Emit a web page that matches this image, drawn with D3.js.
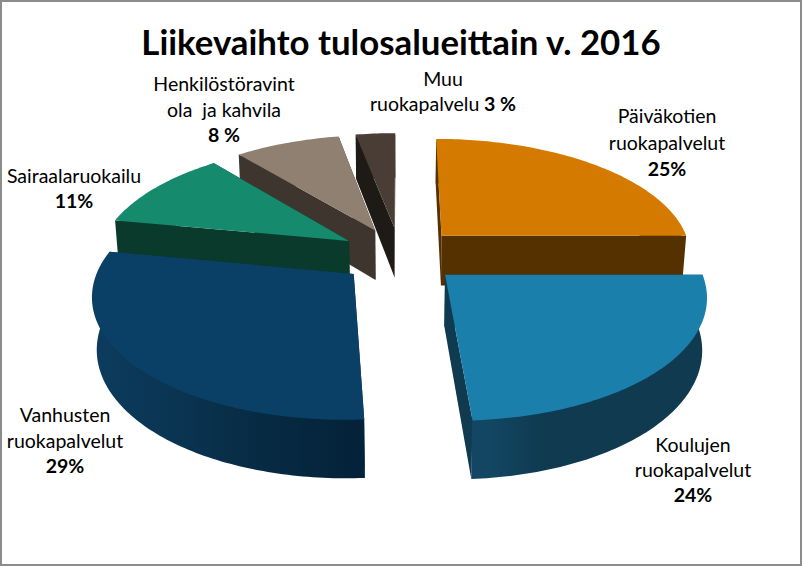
<!DOCTYPE html>
<html><head><meta charset="utf-8">
<script src="https://cdnjs.cloudflare.com/ajax/libs/d3/7.8.5/d3.min.js"></script>
<style>html,body{margin:0;padding:0;background:#fff}svg{display:block}text{font-family:Lato,"Open Sans",sans-serif;fill:#000;white-space:pre}</style>
</head><body><svg id="c" width="802" height="566"></svg>
<script>
// Data
const categories = ["Päiväkotien ruokapalvelut","Koulujen ruokapalvelut","Vanhusten ruokapalvelut","Sairaalaruokailu","Henkilöstöravintola ja kahvila","Muu ruokapalvelu"];
const values = [25,24,29,11,8,3];
const valueLabels = ["25%","24%","29%","11%","8 %","3 %"];
const labelLines = [["Päiväkotien","ruokapalvelut"],["Koulujen","ruokapalvelut"],["Vanhusten","ruokapalvelut"],["Sairaalaruokailu"],["Henkilöstöravint","ola  ja kahvila"],["Muu","ruokapalvelu"]];
const titleText = "Liikevaihto tulosalueittain v. 2016";

// Styles and layout
const topColors = ["#D57A00","#1B7FAB","#0A3F66","#158A6C","#8F8072","#4A3D36"];
const wallColors = ["#563100","#0F3A50","#0A3A5A","#0A3A2C","#3E352E","#1E1A16"];
const curveStops = [
  [[0,"#563100"],[1,"#563100"]],
  [[0.08,"#124662"],[0.3,"#0F3A50"],[1,"#0F3A50"]],
  [[0,"#0C3C5E"],[0.35,"#0A3350"],[0.6,"#072B44"],[0.8,"#05273E"],[1,"#04223A"]],
  [[0,"#0A3A2C"],[1,"#0A3A2C"]],
  [[0,"#3E352E"],[1,"#3E352E"]],
  [[0,"#1E1A16"],[1,"#1E1A16"]]
];
const labelPos = [{x:667,y:123,dy:26.5},{x:693,y:452,dy:25},{x:65,y:422,dy:25.5},{x:74,y:183,dy:25},{x:224,y:91,dy:25.5},{x:443,y:86,dy:25}];
const drawOrder = [5,4,0,3,2,1];
const cx=400, cy=255, b=251, a=117, k=0.153, depth=51.5, shrink=0.015, explode=0.24;

function project(X,Y,low){
  const w = 1 - k*Y + (low?shrink:0);
  return [cx + b*X/w, cy + (a*Y + (low?depth:0))/w];
}
const svg = d3.select("#c");
const defs = svg.append("defs");
svg.append("rect").attr("x",1).attr("y",1).attr("width",800).attr("height",564).attr("fill","#fff").attr("stroke","#8c8c8c").attr("stroke-width",2);

svg.append("text").attr("x",401).attr("y",55).attr("text-anchor","middle").attr("font-size",34.8).attr("font-weight",700).text(titleText);

const arcs = d3.pie().sort(null)(values);
const line = d3.line();
const step = Math.PI/180;

drawOrder.forEach(i=>{
  const s = arcs[i];
  const mid = (s.startAngle+s.endAngle)/2;
  const ox = explode*Math.sin(mid), oy = -explode*Math.cos(mid);
  const pt = (t,r=1)=>[ox+r*Math.sin(t), oy-r*Math.cos(t)];
  const n = Math.max(2,Math.ceil((s.endAngle-s.startAngle)/step));
  const ts = d3.range(n+1).map(j=>s.startAngle+(s.endAngle-s.startAngle)*j/n);
  const g = svg.append("g").attr("class","slice");
  const wall = t=>{
    const p=pt(t);
    return line([project(ox,oy,false),project(p[0],p[1],false),project(p[0],p[1],true),project(ox,oy,true)])+"Z";
  };
  [s.endAngle,s.startAngle].forEach(t=>g.append("path").attr("d",wall(t)).attr("fill",wallColors[i]));
  const upper = ts.map(t=>project(...pt(t),false));
  const inner = ts.map(t=>project(...pt(t,0.98),false));
  const lower = ts.map(t=>project(...pt(t),true)).reverse();
  const xs = upper.map(p=>p[0]);
  const gid="g"+i;
  const lg = defs.append("linearGradient").attr("id",gid).attr("gradientUnits","userSpaceOnUse")
    .attr("x1",d3.min(xs)).attr("x2",d3.max(xs)).attr("y1",0).attr("y2",0);
  curveStops[i].forEach(st=>lg.append("stop").attr("offset",st[0]).attr("stop-color",st[1]));
  g.append("path").attr("d",line(inner.concat(lower))+"Z").attr("fill",`url(#${gid})`);
  const topPts=[project(ox,oy,false)].concat(upper);
  g.append("path").attr("d",line(topPts)+"Z").attr("fill",topColors[i]);
});

const fs=19.5;
labelLines.forEach((lines,i)=>{
  const p=labelPos[i];
  const t=svg.append("text").attr("text-anchor","middle").attr("font-size",fs);
  lines.forEach((l,j)=>t.append("tspan").attr("x",p.x).attr("y",p.y+j*p.dy).text(l));
  if(i===5){
    t.append("tspan").attr("font-weight",700).text(" "+valueLabels[i]);
  } else {
    t.append("tspan").attr("x",p.x).attr("y",p.y+lines.length*p.dy).attr("font-weight",700).text(valueLabels[i]);
  }
});
</script></body></html>
